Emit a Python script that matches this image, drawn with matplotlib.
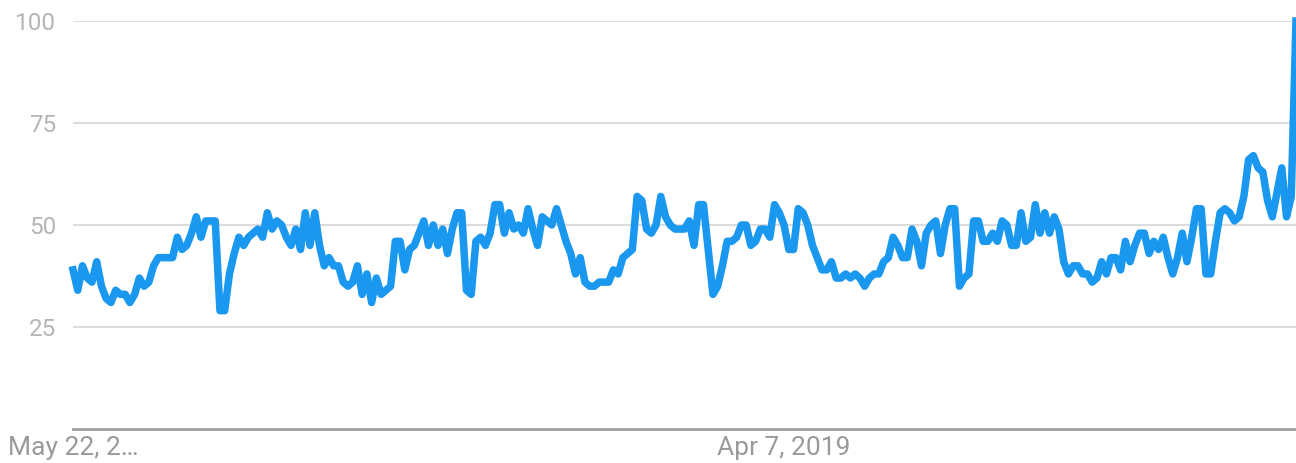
import pandas as pd
import matplotlib.pyplot as plt

# weekly interest values (0-100 scale)
seg_a = [39, 34, 40, 37, 36, 41, 35, 32, 31, 34, 33, 33, 31, 33, 37, 35, 36, 40, 42, 42,
         42, 42, 47, 44, 45, 48, 52, 47, 51, 51, 51]
seg_b = [29, 29, 38, 43, 47, 45, 47, 48, 49, 47, 53, 49, 51, 50, 47, 45, 49, 44, 53, 45,
         53, 45, 40, 42, 40, 40, 36, 35, 36, 40, 33, 38, 31]
seg_c = [37, 33, 34, 35, 46, 46, 39, 44, 45, 48, 51, 45, 50, 45, 49, 43, 49, 53, 53, 34,
         33, 46, 47, 45, 48, 55, 55, 48, 53, 49, 50]
seg_d = [48, 54, 49, 45, 52, 51, 50, 54, 50, 46, 43, 38, 42, 36, 35, 35, 36, 36, 36, 39,
         38, 42, 43, 44, 57, 56, 49, 48, 50, 57]
seg_e = [52, 50, 49, 49, 49, 51, 45, 55, 55, 44, 33, 35, 40, 46, 46, 47, 50, 50, 45, 46,
         49, 49, 47, 55, 53, 50, 44, 44, 54, 53, 50, 45]
seg_f = [42, 39, 39, 41, 37, 37, 38, 37, 38, 37, 35, 37, 38, 38, 41, 42, 47, 45, 42, 42,
         49, 46, 40, 48, 50, 51, 43, 50, 54, 54, 35, 37]
seg_g = [38, 51, 51, 46, 46, 48, 46, 51, 50, 45, 45, 53, 46, 47, 55, 48, 53, 48, 52, 49,
         41, 38, 40, 40, 38, 38, 36, 37, 41, 38, 42, 42, 39]
seg_h = [46, 41, 45, 48, 48, 43, 46, 44, 47, 42, 38, 42, 48, 41, 47, 54, 54, 38, 38, 46,
         53, 54, 53, 51, 52, 57, 66, 67, 64, 63, 56, 52, 58, 64, 52, 57, 100]

values = seg_a + seg_b + seg_c + seg_d + seg_e + seg_f + seg_g + seg_h
weeks = pd.date_range("2016-05-22", periods=len(values), freq="7D")

tick_dates = [pd.Timestamp("2016-05-22"), pd.Timestamp("2019-04-07")]
tick_labels = ["May 22, 2\u2026", "Apr 7, 2019"]
y_ticks = [25, 50, 75, 100]

plt.rcParams['font.family'] = ['Roboto', 'DejaVu Sans']

fig = plt.figure(figsize=(12.96, 4.63), dpi=100)
ax = fig.add_axes([73 / 1296, 34 / 463, 1 - 73 / 1296, 408 / 463])

ax.plot(weeks, values, color='#1a98f0', linewidth=5.4, solid_joinstyle='round', clip_on=False, zorder=3)

ax.set_xlim(weeks[0], weeks[-1])
ax.set_ylim(0, 100)

for v in y_ticks:
    ax.axhline(v, color='#dcdcdc', linewidth=1.5, zorder=1)
ax.axhline(0, color='#9e9e9e', linewidth=2, zorder=2, clip_on=False)

ax.set_yticks(y_ticks)
ax.set_yticklabels([str(v) for v in y_ticks], color='#b5b5b5', fontsize=17.5)
ax.set_xticks(tick_dates)
ax.set_xticklabels(tick_labels, color='#9a9a9a', fontsize=19)
ax.tick_params(axis='both', length=0)
ax.tick_params(axis='y', pad=12)
ax.tick_params(axis='x', pad=5)

for s in ax.spines.values():
    s.set_visible(False)

fig.savefig("out.png", dpi=100)
